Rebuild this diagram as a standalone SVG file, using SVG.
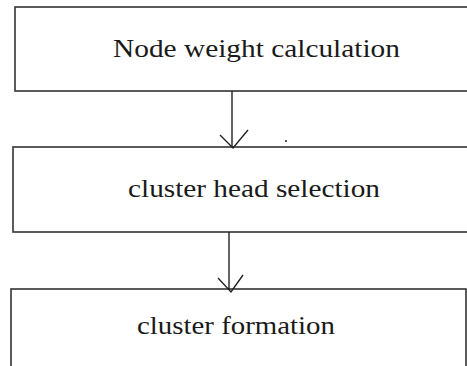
<svg xmlns="http://www.w3.org/2000/svg" width="467" height="366" viewBox="0 0 467 366">
<style>
.box{fill:#fff;stroke:#333;stroke-width:1.6}
.lbl{font-family:"Liberation Serif","Times New Roman",serif;font-size:25px;fill:#1a1a1a}
.con{fill:none;stroke:#222;stroke-width:1.4}
</style>
<rect width="467" height="366" fill="#fff"/>
<g id="node1">
<rect class="box" x="15" y="7" width="470" height="84"/>
<text class="lbl" x="113" y="57" textLength="287" lengthAdjust="spacingAndGlyphs">Node weight calculation</text>
</g>
<g id="node2">
<rect class="box" x="13" y="147" width="470" height="85"/>
<text class="lbl" x="128" y="197" textLength="252" lengthAdjust="spacingAndGlyphs">cluster head selection</text>
</g>
<g id="node3">
<rect class="box" x="11" y="289" width="455" height="90"/>
<text class="lbl" x="137" y="334" textLength="198" lengthAdjust="spacingAndGlyphs">cluster formation</text>
</g>
<g id="connectors">
<path class="con" d="M232 91 V147"/>
<path class="con" d="M220 135 L233 148 L248 130"/>
<path class="con" d="M229 232 V290"/>
<path class="con" d="M218 278 L231 292 L243 275"/>
<path class="con" d="M285 141 h2"/>
</g>
</svg>
